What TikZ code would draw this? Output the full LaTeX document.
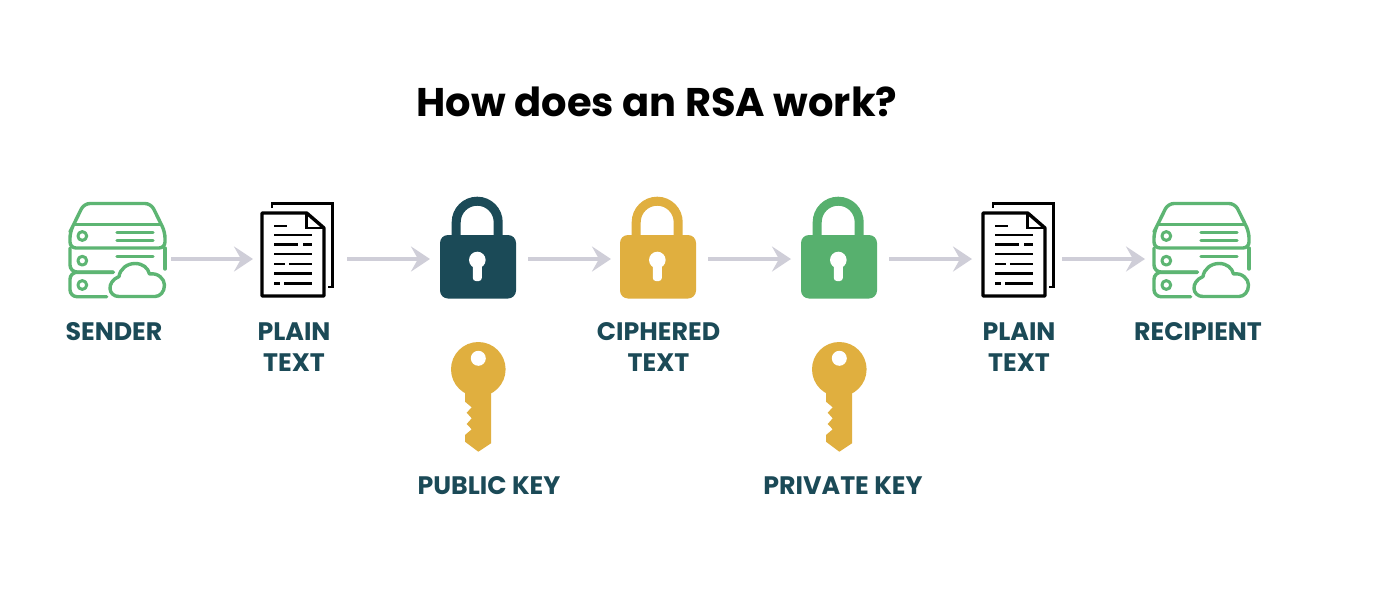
\documentclass[tikz,border=0pt]{standalone}
\usepackage{fontspec}
\setmainfont{Poppins}
\usetikzlibrary{arrows.meta}
\definecolor{srvgreen}{HTML}{5DB573}
\definecolor{lockgreen}{HTML}{57B06E}
\definecolor{gold}{HTML}{E0AF3F}
\definecolor{teal}{HTML}{1B4A57}
\definecolor{flow}{HTML}{CFCED8}
\tikzset{
  slot/.style={minimum height=70pt,inner sep=0pt,outer sep=0pt},
  flowarrow/.style={flow,line width=3.4pt,-{Stealth[length=19pt,width=25pt,inset=7pt]}},
  heading/.style={anchor=base,font=\fontsize{40}{40}\selectfont\bfseries,text=black,inner sep=0pt},
  tag/.style={anchor=base,font=\fontsize{25.3}{25.3}\selectfont\bfseries,text=teal,inner sep=0pt},
}
% Server rack with a cloud in front of its lowest unit
\newcommand{\rackicon}[1]{%
\begin{scope}[shift={(#1,0)},srvgreen,line width=3.4pt,line join=round,line cap=round]
  \draw[rounded corners=6pt] (70,232) -- (84,203.5) -- (151,203.5) -- (165,232) -- (165,248) -- (70,248) -- (70,232) -- (72,228);
  \draw (75,224.5) -- (160,224.5);
  \draw[rounded corners=7pt] (113.3,272) -- (70,272) -- (70,248);
  \draw (165,248) -- (165,269) ;
  \draw[rounded corners=7pt] (113.3,272.3) -- (70,272.3) -- (70,296.7) -- (106.7,296.7);
  \draw[line width=3pt] (82.3,236) circle[radius=4.4] (82.3,260.7) circle[radius=4.4] (82.3,285) circle[radius=4.4];
  \draw (117,232.3) -- (153,232.3) (117,240.4) -- (153,240.4) (117,256.7) -- (153,256.7);
  \draw (119,296.5) .. controls (108,296.5) and (106,282) .. (119,276.5)
    .. controls (120,269) and (127,263.5) .. (135,263.5)
    .. controls (143,263.5) and (148,268) .. (149.5,274)
    .. controls (158,272.5) and (164.5,279) .. (164.5,285)
    .. controls (164.5,292) and (160,296.5) .. (155,296.5) -- cycle;
\end{scope}}
% Two stacked sheets of text
\newcommand{\pagesicon}[1]{%
\begin{scope}[shift={(#1,0)},black,line join=miter]
  \draw[line width=2.4pt] (271.7,208) -- (271.7,203.5) -- (332.5,203.5) -- (332.5,287) -- (328,287);
  \draw[line width=3.4pt,line join=round] (262,213) -- (306.7,213) -- (324,228) -- (324,296) -- (262,296) -- cycle;
  \draw[line width=2.6pt] (306.7,213) -- (306.7,228) -- (324,228);
  \draw[line width=2.8pt]
    (274,226) -- (287.3,226)
    (274,235) -- (311.7,235)
    (274,244.3) -- (298.3,244.3) (303.3,244.3) -- (311.7,244.3)
    (274,254) -- (311.7,254)
    (274,264) -- (285,264) (289.3,264) -- (311.7,264)
    (274,273.3) -- (311.7,273.3)
    (274,283.3) -- (280,283.3) (284,283.3) -- (311.7,283.3);
\end{scope}}
% Closed padlock, solid body with a keyhole
\newcommand{\lockicon}[2]{%
\begin{scope}[shift={(#1,0)}]
  \draw[#2,line width=9pt] (456.2,240) -- (456.2,222.2) arc[start angle=180,end angle=0,x radius=21,y radius=-21] -- (498.2,240);
  \fill[#2,rounded corners=8pt] (440,235) rectangle (516,298.5);
  \fill[white] (477.3,260) circle[radius=8.3];
  \fill[white,rounded corners=3pt] (472.8,260) rectangle (481.8,281);
\end{scope}}
% Key with a round bow and a toothed blade
\newcommand{\keyicon}[1]{%
\begin{scope}[shift={(#1,0)}]
  \fill[gold] (478.3,369.3) circle[radius=27.3];
  \fill[gold] (465,390) -- (465,401.7) -- (471.7,407.3) -- (466.7,412.7) -- (471.7,418.3) -- (466.7,424) -- (471.7,429.3) -- (465,435) -- (465,441.7) -- (478.3,451.7) -- (491,443.3) -- (491,390) -- cycle;
  \fill[white] (478.3,358.3) circle[radius=7.5];
\end{scope}}
\begin{document}
\begin{tikzpicture}[x=1pt,y=-1pt]
  \useasboundingbox[fill=white] (0,0) rectangle (1396,610);

  \node[heading] (title) at (657,116.7) {How does an RSA work?};

  \rackicon{0}
  \pagesicon{0}
  \lockicon{0}{teal}
  \lockicon{180}{gold}
  \lockicon{361}{lockgreen}
  \pagesicon{721}
  \rackicon{1084}
  \keyicon{0}
  \keyicon{361}

  % Empty slots marking where each step sits on the flow line
  \node[slot,minimum width=95pt] (sender) at (117.5,259) {};
  \node[slot,minimum width=71pt] (plainA) at (297.5,259) {};
  \node[slot,minimum width=76pt] (lockA) at (478,259) {};
  \node[slot,minimum width=76pt] (cipher) at (658,259) {};
  \node[slot,minimum width=76pt] (lockB) at (839,259) {};
  \node[slot,minimum width=71pt] (plainB) at (1018.5,259) {};
  \node[slot,minimum width=95pt] (recipient) at (1201.5,259) {};

  \draw[flowarrow,shorten <=6pt,shorten >=9pt] (sender.east) -- (plainA.west);
  \draw[flowarrow,shorten <=14pt,shorten >=10pt] (plainA.east) -- (lockA.west);
  \draw[flowarrow,shorten <=12pt,shorten >=9pt] (lockA.east) -- (cipher.west);
  \draw[flowarrow,shorten <=12pt,shorten >=10pt] (cipher.east) -- (lockB.west);
  \draw[flowarrow,shorten <=12pt,shorten >=11pt] (lockB.east) -- (plainB.west);
  \draw[flowarrow,shorten <=8pt,shorten >=9pt] (plainB.east) -- (recipient.west);

  \node[tag] (t1) at (114,340.5) {SENDER};
  \node[tag] (t2) at (294,340.5) {PLAIN};
  \node[tag] (t3) at (294,371) {TEXT};
  \node[tag] (t4) at (658.5,340.5) {CIPHERED};
  \node[tag] (t5) at (658.5,371) {TEXT};
  \node[tag] (t6) at (1019,340.5) {PLAIN};
  \node[tag] (t7) at (1019,371) {TEXT};
  \node[tag] (t8) at (1198,340.5) {RECIPIENT};
  \node[tag] (t9) at (489,494.5) {PUBLIC KEY};
  \node[tag] (t10) at (843,494.5) {PRIVATE KEY};
\end{tikzpicture}
\end{document}
